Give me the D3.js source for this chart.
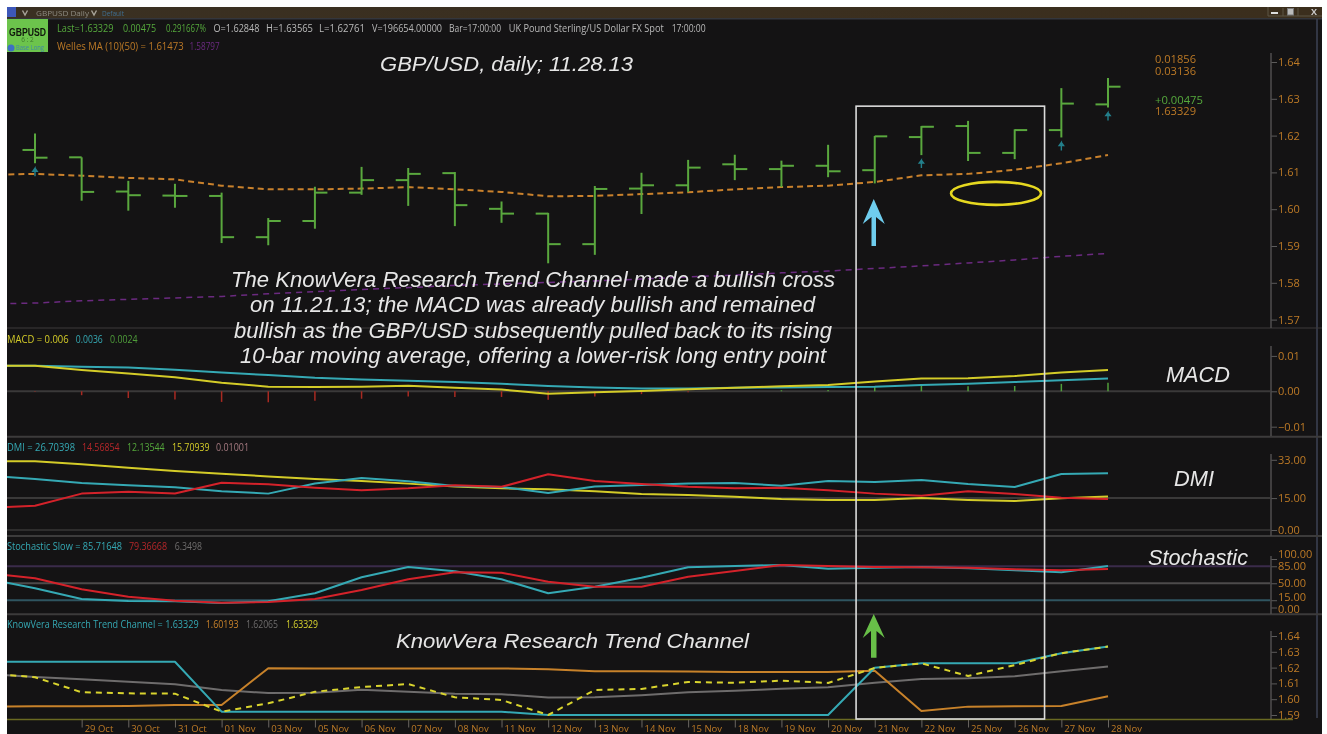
<!DOCTYPE html>
<html><head><meta charset="utf-8">
<style>html,body{margin:0;padding:0;background:#fff;overflow:hidden}svg{display:block;filter:blur(0.5px)}</style>
<script src="https://cdnjs.cloudflare.com/ajax/libs/d3/7.8.5/d3.min.js"></script>
</head><body><svg id="c" width="1327" height="734"></svg>
<script>
// ---------- data (index 0 = 28 Oct; "prior" arrays start one bar before, index -1) ----------
const dates=["29 Oct","30 Oct","31 Oct","01 Nov","03 Nov","05 Nov","06 Nov","07 Nov","08 Nov","11 Nov","12 Nov","13 Nov","14 Nov","15 Nov","18 Nov","19 Nov","20 Nov","21 Nov","22 Nov","25 Nov","26 Nov","27 Nov","28 Nov"];
const open =[1.6161,1.6141,1.6048,1.6037,1.6036,1.5924,1.5968,1.6045,1.6079,1.6098,1.6001,1.5988,1.5905,1.6056,1.6065,1.6122,1.6109,1.6118,1.6106,1.6196,1.6226,1.6153,1.6215,1.62848];
const high =[1.6206,1.6141,1.6077,1.6069,1.6045,1.5976,1.6061,1.6115,1.6112,1.6101,1.6021,1.5990,1.6063,1.6099,1.6134,1.6148,1.6132,1.6175,1.6199,1.6226,1.6240,1.6217,1.6329,1.63565];
const low  =[1.6125,1.6023,1.5996,1.6004,1.5908,1.5902,1.5947,1.6039,1.6009,1.5954,1.5963,1.5853,1.5876,1.5987,1.6047,1.6079,1.6060,1.6087,1.6070,1.6147,1.6131,1.6136,1.6195,1.62761];
const close=[1.6140,1.6047,1.6038,1.6036,1.5924,1.5968,1.6045,1.6079,1.6096,1.6011,1.5988,1.5905,1.6055,1.6065,1.6113,1.6109,1.6118,1.6103,1.6198,1.6224,1.6153,1.6215,1.6287,1.63329];
const ma10=[1.6093,1.6096,1.6091,1.6085,1.6081,1.6064,1.6054,1.6054,1.6056,1.6060,1.6054,1.6047,1.6035,1.6036,1.6041,1.6046,1.6054,1.6060,1.6064,1.6074,1.6092,1.6096,1.6107,1.6125,1.61473];
const ma50=[1.5742,1.5745,1.5751,1.5755,1.5759,1.5763,1.5770,1.5776,1.5782,1.5787,1.5793,1.5797,1.5801,1.5805,1.5810,1.5816,1.5821,1.5827,1.5832,1.5839,1.5846,1.5854,1.5862,1.5872,1.58797];
const signalBars=[0,19,22,23];
const macd=[.0072,.0072,.0060,.0050,.0040,.0024,.0013,.0012,.0013,.0016,.0010,.0005,-.0007,-.0003,.0001,.0006,.0010,.0014,.0018,.0028,.0036,.0037,.0043,.0053,.0060];
const macdSignal=[.0072,.0072,.0069,.0067,.0061,.0053,.0046,.0038,.0033,.0030,.0026,.0021,.0015,.0011,.0008,.0008,.0010,.0011,.0012,.0013,.0018,.0021,.0026,.0031,.0036];
const macdHist=[-.0001,-.0011,-.0019,-.0023,-.0030,-.0031,-.0027,-.0021,-.0015,-.0016,-.0016,-.0024,-.0015,-.0008,-.0003,0,.0003,.0004,.0012,.0018,.0014,.0015,.0021,.0024];
const dmiAdx=[32.3,32.3,30.9,29.3,27.7,26.5,25.2,24.0,23.0,21.8,20.5,19.6,19.1,18.2,16.9,16.4,15.6,14.6,14.1,14.1,15.0,14.1,13.6,14.9,15.71];
const dmiPlus=[25.5,24.0,22.1,21.0,20.1,18.2,17.1,21.9,24.4,22.9,20.7,20.2,17.4,20.5,21.1,21.9,22.1,20.8,23.0,22.6,23.5,21.6,20.2,26.3,26.70];
const dmiMinus=[10.5,11.4,17.1,18.0,17.2,22.2,21.5,19.9,18.7,19.6,21.0,20.3,26.2,23.0,21.6,20.3,19.6,19.9,18.7,17.1,16.1,18.2,16.9,15.2,14.57];
const stochK=[59,39.6,17.5,13.4,12.8,9.3,12.8,29.3,62.3,83.5,74.6,58.1,29.3,42.9,61.4,82.9,85.6,87.6,80,82.1,83.5,80.8,76.7,72.6,85.72];
const stochD=[71,60.2,37.5,22.3,14,9.9,11.3,17.5,36.1,58.1,72.6,71.8,53.2,42.9,42.9,63.5,75.3,87.6,85.6,83.5,82.9,82.1,78.8,76.7,79.37];
const stochLevels=[85,50,15];
const tcUpper=[1.6237,1.6237,1.6237,1.6237,1.6237,1.5921,1.5921,1.5921,1.5921,1.5921,1.5921,1.5921,1.5900,1.5900,1.5900,1.5900,1.5900,1.5900,1.5900,1.6199,1.6227,1.6227,1.6227,1.6291,1.63329];
const tcLower=[1.5954,1.5955,1.5956,1.5957,1.5963,1.5963,1.6196,1.6195,1.6194,1.6194,1.6195,1.6195,1.6189,1.6177,1.6177,1.6175,1.6172,1.6172,1.6172,1.6180,1.5925,1.5953,1.5955,1.5957,1.60193];
const tcMid=[1.6158,1.6141,1.6126,1.6111,1.6094,1.6058,1.6039,1.6041,1.6060,1.6047,1.6035,1.6031,1.6010,1.6012,1.6025,1.6044,1.6054,1.6066,1.6075,1.6104,1.6128,1.6132,1.6145,1.6177,1.62065];
const tcClose=[1.6163,1.6139,1.6044,1.6037,1.6035,1.5921,1.5974,1.6047,1.6077,1.6096,1.6012,1.5995,1.5900,1.6058,1.6065,1.6109,1.6104,1.6117,1.6103,1.6198,1.6227,1.6147,1.6216,1.6291,1.63329];
const mainTicks=[1.57,1.58,1.59,1.60,1.61,1.62,1.63,1.64];
const macdTicks=[-.01,0,.01];
const dmiTicks=[0,15,33];
const stochTicks=[0,15,50,85,100];
const tcTicks=[1.59,1.60,1.61,1.62,1.63,1.64];
const annotation=["The KnowVera Research Trend Channel made a bullish cross","on 11.21.13; the MACD was already bullish and remained","bullish as the GBP/USD subsequently pulled back to its rising","10-bar moving average, offering a lower-risk long entry point"];

// ---------- scales ----------
const svg=d3.select("#c");
const x=d3.scaleLinear().domain([0,23]).range([35,1108]);
const yMain=d3.scaleLinear().domain([1.57,1.64]).range([319.6,62]);
const yMacd=d3.scaleLinear().domain([-.01,.01]).range([426.7,355.9]);
const yDmi=d3.scaleLinear().domain([0,33]).range([530,459.8]);
const yStoch=d3.scaleLinear().domain([0,100]).range([607.5,559]);
const yTc=d3.scaleLinear().domain([1.59,1.64]).range([715,636]);

const BG="#141314",GREEN="#5aa83e",ORANGE="#bd7a26",CYAN="#35a9b4",RED="#d4222a",YEL="#d4cc28",GREY="#6e6c6c";
const LEFT=7,PLOT_R=1270;

svg.append("rect").attr("width",1327).attr("height",734).attr("fill","#fff");
svg.append("rect").attr("x",LEFT).attr("y",7).attr("width",1315).attr("height",727).attr("fill",BG);
const defs=svg.append("defs");
const grad=defs.append("linearGradient").attr("id","tb");
grad.append("stop").attr("offset","0").attr("stop-color","#3a3022");
grad.append("stop").attr("offset","1").attr("stop-color","#3b2e1d");
defs.append("clipPath").attr("id","plot").append("rect").attr("x",LEFT).attr("y",0).attr("width",1260).attr("height",734);

// ---------- title bar ----------
svg.append("rect").attr("x",LEFT).attr("y",7).attr("width",1315).attr("height",11).attr("fill","url(#tb)");
svg.append("rect").attr("x",LEFT).attr("y",18).attr("width",1315).attr("height",1.5).attr("fill","#34363c");
svg.append("rect").attr("x",LEFT).attr("y",7).attr("width",9).attr("height",10).attr("fill","#3d57b8");
function txt(s,px,py,col,size,opts={}){
  const t=svg.append("text").attr("x",px).attr("y",py).attr("fill",col).attr("font-size",size)
    .attr("font-family",opts.family||"'Open Sans',sans-serif").text(s);
  if(opts.len){t.attr("textLength",opts.len).attr("lengthAdjust","spacingAndGlyphs");}
  if(opts.weight)t.attr("font-weight",opts.weight);
  if(opts.italic)t.attr("font-style","italic");
  if(opts.anchor)t.attr("text-anchor",opts.anchor);
  return t;
}
txt("GBPUSD  Daily",36,15.5,"#8d8a80",8,{len:53});
txt("Default",102,15.5,"#3f6f92",8,{len:22});
[[25,"#a8a49a"],[94,"#a8a49a"]].forEach(([px,c])=>svg.append("path").attr("d",d3.line()([[px-2.5,10.5],[px,15],[px+2.5,10.5]])).attr("fill","none").attr("stroke",c).attr("stroke-width",1.4));
svg.append("path").attr("d","M1268 7V16H1322").attr("fill","none").attr("stroke","#5c5445").attr("stroke-width",1);
[1283,1298].forEach(px=>svg.append("line").attr("x1",px).attr("x2",px).attr("y1",8).attr("y2",16).attr("stroke","#5c5445"));
svg.append("rect").attr("x",1271).attr("y",12).attr("width",7).attr("height",2).attr("fill","#ddd");
svg.append("rect").attr("x",1287.5).attr("y",8.5).attr("width",6).attr("height",6.5).attr("fill","#bbb").attr("stroke","#777");
txt("X",1314,15,"#c9c9c9",9,{anchor:"middle",weight:"bold"});
svg.append("line").attr("x1",1317).attr("x2",1317).attr("y1",19).attr("y2",718).attr("stroke","#3c4354").attr("stroke-width",1.5);

// badge
svg.append("rect").attr("x",LEFT).attr("y",19).attr("width",41).attr("height",33).attr("fill","#6cc44c");
txt("GBPUSD",27.5,35.5,"#10160c",10.5,{anchor:"middle",weight:"bold",len:37,family:"'Liberation Sans',sans-serif"});
txt("6 : 2",27.5,42,"#3d7a2c",6.5,{anchor:"middle"});
svg.append("circle").attr("cx",11).attr("cy",48).attr("r",3.5).attr("fill","#3d6fc4");
txt("Base Long",16,50,"#3f86a8",6.5,{len:28});

// ---------- separators and level lines ----------
[328,436.7,536,614.3].forEach(py=>svg.append("line").attr("x1",LEFT).attr("x2",1322).attr("y1",py).attr("y2",py).attr("stroke","#3c3b3b").attr("stroke-width",py===328?1:2));
function hline(py,col,w){svg.append("line").attr("x1",LEFT).attr("x2",PLOT_R).attr("y1",py).attr("y2",py).attr("stroke",col).attr("stroke-width",w);}
hline(yMacd(0),"#3a3939",2);
hline(yDmi(15),"#3a3939",2);
hline(yDmi(0),"#2e2d2d",2);
const levelColors=["#3a2b4a","#4d4b4b","#2f5560"];
stochLevels.forEach((v,i)=>hline(yStoch(v),levelColors[i],2));

// ---------- helpers ----------
const plot=svg.append("g").attr("clip-path","url(#plot)");
function series(vals,y,col,w,dash){
  const l=d3.line().x((d,i)=>x(i-1)).y(d=>y(d));
  const p=plot.append("path").attr("d",l(vals)).attr("fill","none").attr("stroke",col).attr("stroke-width",w).attr("stroke-linejoin","round");
  if(dash)p.attr("stroke-dasharray",dash);
}
function yAxis(scale,ticks,fmt,top,bottom,nudge={}){
  const g=svg.append("g").attr("transform",`translate(${PLOT_R+1},0)`)
    .call(d3.axisRight(scale).tickValues(ticks).tickFormat(fmt).tickSize(6).tickPadding(1).tickSizeOuter(0));
  g.select(".domain").remove();
  g.selectAll("line").attr("stroke","#5c5b5b");
  g.selectAll("text").attr("fill",ORANGE).attr("font-size",11).attr("font-family","'Open Sans',sans-serif")
    .attr("dy",d=>(nudge[d]||0)+3.5);
  svg.append("line").attr("x1",PLOT_R+1).attr("x2",PLOT_R+1).attr("y1",top).attr("y2",bottom).attr("stroke","#4f4e4e").attr("stroke-width",1.5);
}
const f2=d3.format(".2f");

// ---------- price panel ----------
series(ma10,yMain,"#c9812c",2,"6 4");
series(ma50,yMain,"#6b2a80",1.5,"6 5");
const bars=plot.append("g").selectAll("g").data(d3.range(open.length)).join("g").attr("stroke",GREEN).attr("stroke-width",2);
bars.append("line").attr("x1",i=>x(i)).attr("x2",i=>x(i)).attr("y1",i=>yMain(high[i])).attr("y2",i=>yMain(low[i]));
bars.append("line").attr("x1",i=>x(i)-12.5).attr("x2",i=>x(i)).attr("y1",i=>yMain(open[i])).attr("y2",i=>yMain(open[i]));
bars.append("line").attr("x1",i=>x(i)).attr("x2",i=>x(i)+12.5).attr("y1",i=>yMain(close[i])).attr("y2",i=>yMain(close[i]));
signalBars.forEach(i=>{
  const px=x(i),py=yMain(low[i])+5;
  plot.append("path").attr("d",d3.line()([[px,py+8],[px,py],[px-2.2,py+3],[px+2.2,py+3],[px,py]])).attr("fill","none").attr("stroke","#23808c").attr("stroke-width",1.4);
});
yAxis(yMain,mainTicks,f2,53,328);

// ---------- MACD panel ----------
plot.append("g").selectAll("line").data(macdHist).join("line")
  .attr("x1",(d,i)=>x(i)).attr("x2",(d,i)=>x(i)).attr("y1",yMacd(0)).attr("y2",d=>yMacd(d))
  .attr("stroke",d=>d<0?"#a82a22":"#4f9e3a").attr("stroke-width",1.5);
series(macdSignal,yMacd,CYAN,2);
series(macd,yMacd,YEL,2);
yAxis(yMacd,macdTicks,f2,346,436);

// ---------- DMI panel ----------
series(dmiAdx,yDmi,YEL,2);
series(dmiPlus,yDmi,CYAN,2);
series(dmiMinus,yDmi,RED,2);
yAxis(yDmi,dmiTicks,f2,454,536);

// ---------- Stochastic panel ----------
series(stochK,yStoch,CYAN,2);
series(stochD,yStoch,RED,2);
yAxis(yStoch,stochTicks,f2,556,614,{100:-5,15:-3.5,0:1});

// ---------- Trend channel panel ----------
series(tcMid,yTc,GREY,2);
series(tcLower,yTc,"#c8822a",2);
series(tcUpper,yTc,CYAN,2);
series(tcClose,yTc,"#d9d42e",2,"6 5");
yAxis(yTc,tcTicks,f2,631,719);

// ---------- date axis ----------
svg.append("line").attr("x1",LEFT).attr("x2",1293).attr("y1",719.5).attr("y2",719.5).attr("stroke","#6a6a22").attr("stroke-width",1.5);
const dateAxis=svg.append("g").attr("transform","translate(0,719.5)")
  .call(d3.axisBottom(x).tickValues(d3.range(1,24)).tickFormat(i=>dates[i-1]).tickSize(8).tickPadding(0).tickSizeOuter(0));
dateAxis.select(".domain").remove();
dateAxis.selectAll("line").attr("stroke","#6a6660");
dateAxis.selectAll("text").attr("fill",ORANGE).attr("font-size",9.5).attr("font-family","'Open Sans',sans-serif")
  .attr("text-anchor","start").attr("dx",2.5).attr("dy",4.5);

// ---------- header read-outs ----------
const Y1=31.5,Y2=49.5;
[["Last=1.63329",57,56.6,"#55a83c"],["0.00475",123,33,"#55a83c"],["0.291667%",166,40,"#55a83c"],["O=1.62848",213.5,46,"#b9b9b9"],["H=1.63565",266,47,"#b9b9b9"],["L=1.62761",319,46,"#b9b9b9"],["V=196654.00000",372,70,"#b9b9b9"],["Bar=17:00:00",449,52,"#b9b9b9"],["UK Pound Sterling/US Dollar FX Spot",508.7,155,"#b9b9b9"],["17:00:00",671.7,34,"#b9b9b9"]]
 .forEach(([s,px,w,c])=>txt(s,px,Y1,c,10,{len:w}));
txt("Welles MA (10)(50) = 1.61473",57,Y2,"#bd7a26",10,{len:126.6});
txt("1.58797",189.6,Y2,"#6b2a80",10,{len:30});
[["MACD = 0.006",7,61.6,YEL,342.5],["0.0036",75.8,27,CYAN,342.5],["0.0024",110,27.6,"#4f9e3a",342.5],
 ["DMI = 26.70398",7,68,CYAN,450.5],["14.56854",82,37.5,"#b5272a",450.5],["12.13544",127,37.6,"#55a83c",450.5],["15.70939",172,37.5,YEL,450.5],["0.01001",216,33,"#a57a80",450.5],
 ["Stochastic Slow = 85.71648",7,115,CYAN,549.5],["79.36668",129,38,"#b5272a",549.5],["6.3498",174.7,27.3,"#6e6c6c",549.5],
 ["KnowVera Research Trend Channel = 1.63329",7,191.6,CYAN,628],["1.60193",205.8,32.8,"#c8822a",628],["1.62065",246,32,"#6e6c6c",628],["1.63329",286,32,"#d9d42e",628]]
 .forEach(([s,px,w,c,py])=>txt(s,px,py,c,10,{len:w}));
txt("0.01856",1155,63,ORANGE,10.5,{len:41});
txt("0.03136",1155,75,ORANGE,10.5,{len:41});
txt("+0.00475",1155,104,"#55a83c",10.5,{len:48});
txt("1.63329",1155,115,ORANGE,10.5,{len:41});

// ---------- annotation shapes ----------
const rectL=x(17.6),rectR=x(21.64),rectT=yMain(1.6280),rectB=719;
svg.append("rect").attr("x",rectL).attr("y",rectT).attr("width",rectR-rectL).attr("height",rectB-rectT).attr("fill","none").attr("stroke","#dcdcdc").attr("stroke-width",1.6);
svg.append("ellipse").attr("cx",x(20.6)).attr("cy",yMain(1.6043)).attr("rx",45).attr("ry",11.5).attr("fill","none").attr("stroke","#e6d820").attr("stroke-width",2.6);
function bigArrow(px,tip,base,halfW,headLen,shaft,col){
  svg.append("path").attr("fill",col).attr("d",d3.line()([[px,tip],[px+halfW,tip+headLen+3],[px+shaft/2,tip+headLen-4],[px+shaft/2,base],[px-shaft/2,base],[px-shaft/2,tip+headLen-4],[px-halfW,tip+headLen+3]])+"Z");
}
bigArrow(x(18)-1,yMain(1.6028),yMain(1.5900),11,22,4.5,"#6fcdee");
bigArrow(x(18)-1,yTc(1.6539),yTc(1.6263),11,21,5.5,"#68bf48");

// ---------- commentary ----------
const serif="'Liberation Sans',Arial,sans-serif",W="#e6e6e6";
const annoPos=[[231,287,604],[250,312,565],[234,338,598],[240,363,586]];
annotation.forEach((s,i)=>txt(s,annoPos[i][0],annoPos[i][1],W,22,{family:serif,italic:true,len:annoPos[i][2]}));
txt("GBP/USD, daily; 11.28.13",380,71,W,20.5,{family:serif,italic:true,len:253});
txt("MACD",1166,381.5,W,21.5,{family:serif,italic:true,len:64});
txt("DMI",1174,486,W,21.5,{family:serif,italic:true,len:40});
txt("Stochastic",1148,565,W,21.5,{family:serif,italic:true,len:100});
txt("KnowVera Research Trend Channel",396,648,W,21,{family:serif,italic:true,len:353});
</script></body></html>
